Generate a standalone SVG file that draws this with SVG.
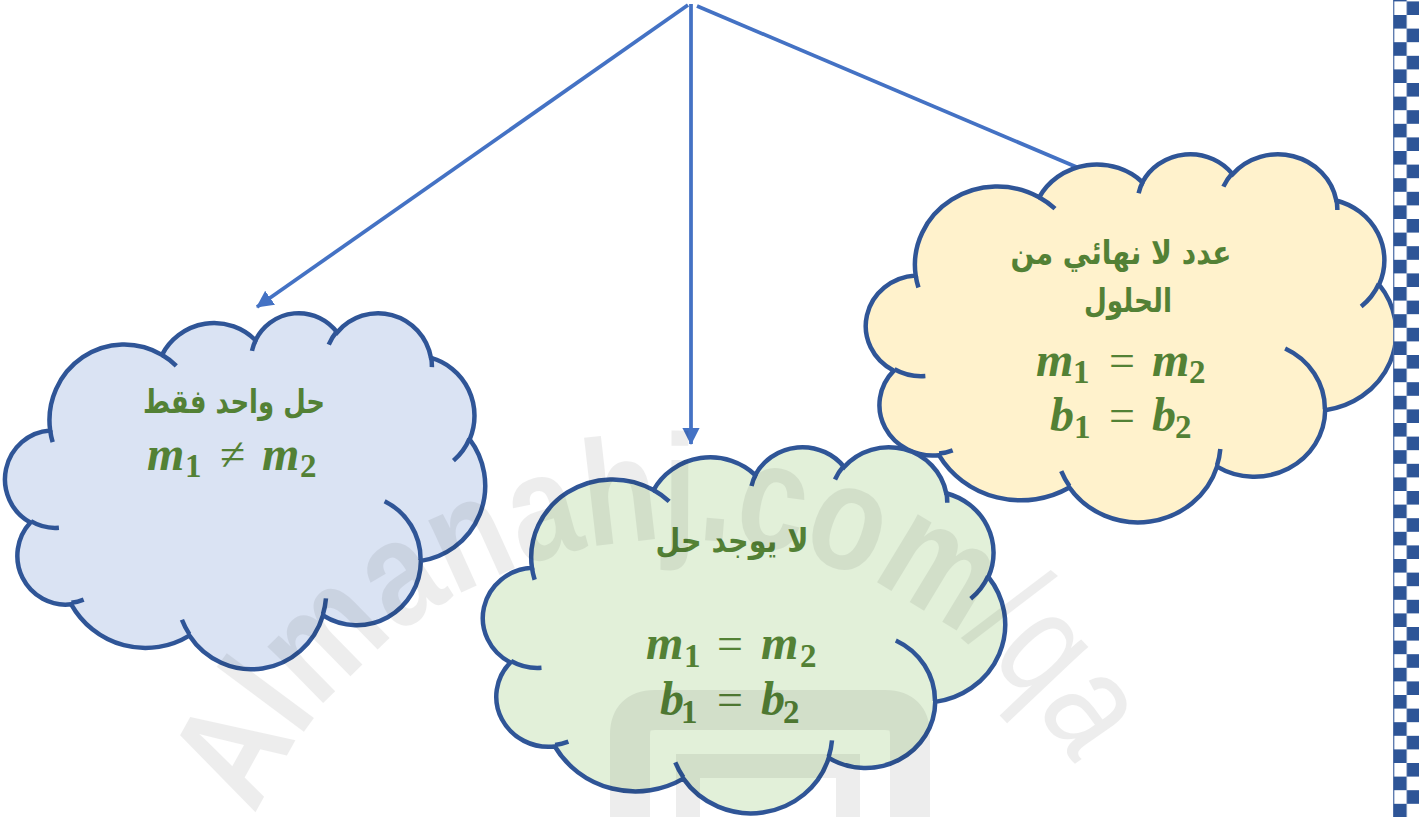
<svg xmlns="http://www.w3.org/2000/svg" width="1419" height="817" viewBox="0 0 1419 817">
<style>
.edge{fill:none;stroke:#4472C4;stroke-width:3.75}
.cl{stroke:#2F5597;stroke-width:4.5}
.cl-in{fill:none;stroke:#2F5597;stroke-width:4.5}
.blue{fill:#DAE3F3}
.green{fill:#E2F0D9}
.yellow{fill:#FFF2CC}
.ar{font-family:"DejaVu Sans",sans-serif;font-weight:bold;font-size:33px;fill:#538135}
.math{font-family:"Liberation Serif",serif;fill:#538135}
.mi{font-style:italic;font-weight:bold;font-size:48px}
.sub{font-style:normal;font-weight:bold;font-size:33px}
.mo{font-style:normal;font-weight:normal;font-size:46px}
.wm{font-family:"Liberation Sans",sans-serif;font-weight:bold;font-size:150px}
</style>
<defs>
<marker id="ah" markerUnits="userSpaceOnUse" markerWidth="18" markerHeight="18" refX="16" refY="8.6" orient="auto">
<path d="M0,0 L17,8.6 L0,17.2 Z" fill="#4472C4"/>
</marker>
<path id="cloudOuter" vector-effect="non-scaling-stroke" d="M3900,14370 A6753,9190 0 0 1 14005,5202 A5333,7267 0 0 1 22456,3432 A4365,5945 0 0 1 29833,2481 A4857,6595 0 0 1 38318,5576 A5333,7273 0 0 1 41818,15460 A6775,9220 0 0 1 37404,30203 A5785,7867 0 0 1 28556,36813 A6752,9215 0 0 1 16480,39264 A7720,10543 0 0 1 5804,35470 A4360,5918 0 0 1 2113,25548 A4345,5945 0 0 1 3900,14370 Z"/>
<path id="cloudInner" vector-effect="non-scaling-stroke" d="M4693,26177 A4345,5945 0 0 1 2160,25380 M6928,34899 A4360,5918 0 0 1 5820,35281 M16478,39090 A6752,9215 0 0 1 15810,37350 M28827,34751 A6752,9215 0 0 1 28560,36660 M34129,22954 A5785,7867 0 0 1 37381,30090 M41798,15354 A5333,7273 0 0 1 40350,18030 M38324,5426 A4857,6595 0 0 1 38400,6690 M29078,3952 A4857,6595 0 0 1 29820,2340 M22141,4720 A4365,5945 0 0 1 22500,3330 M14000,5192 A6753,9190 0 0 1 15300,6540 M4127,15789 A6753,9190 0 0 1 3900,14370"/>
<path id="wmArc" d="M256,816 A460,460 0 0 1 1080,776"/>
<pattern id="chk" x="1393.3" y="1.4" width="25.7" height="27.2" patternUnits="userSpaceOnUse">
<rect x="13.4" y="0" width="12.3" height="13.6" fill="#2E5597"/>
<rect x="0" y="13.6" width="13.4" height="13.6" fill="#2E5597"/>
</pattern>
</defs>
<rect width="1419" height="817" fill="#FFFFFF"/>
<g id="connectors">
<line class="edge" x1="688" y1="5" x2="257" y2="307" marker-end="url(#ah)"/>
<line class="edge" x1="691" y1="4" x2="691" y2="444" marker-end="url(#ah)"/>
<line class="edge" x1="697" y1="6" x2="1100" y2="177"/>
</g>
<g id="node-infinite">
<use href="#cloudOuter" class="cl yellow" transform="translate(868,153) scale(0.0122222,0.0085185)"/>
<use href="#cloudInner" class="cl-in" transform="translate(868,153) scale(0.0122222,0.0085185)"/>
<text class="ar" x="1121" y="264" text-anchor="middle" textLength="221" lengthAdjust="spacingAndGlyphs">عدد لا نهائي من</text>
<text class="ar" x="1128" y="312" text-anchor="middle" textLength="88" lengthAdjust="spacingAndGlyphs">الحلول</text>
<text class="math"><tspan class="mi" x="1036" y="376">m</tspan><tspan class="sub" x="1073" y="383">1</tspan><tspan class="mo" x="1109" y="376">=</tspan><tspan class="mi" x="1152" y="376">m</tspan><tspan class="sub" x="1189" y="383">2</tspan></text>
<text class="math"><tspan class="mi" x="1050" y="431">b</tspan><tspan class="sub" x="1074" y="438">1</tspan><tspan class="mo" x="1109" y="431">=</tspan><tspan class="mi" x="1152" y="431">b</tspan><tspan class="sub" x="1175" y="438">2</tspan></text>
</g>
<g id="node-none">
<use href="#cloudOuter" class="cl green" transform="translate(485,446) scale(0.0120370,0.0084722)"/>
<use href="#cloudInner" class="cl-in" transform="translate(485,446) scale(0.0120370,0.0084722)"/>
<text class="ar" x="732" y="552" text-anchor="middle" textLength="153" lengthAdjust="spacingAndGlyphs">لا يوجد حل</text>
<text class="math"><tspan class="mi" x="646" y="659">m</tspan><tspan class="sub" x="684" y="667">1</tspan><tspan class="mo" x="717" y="659">=</tspan><tspan class="mi" x="761" y="659">m</tspan><tspan class="sub" x="800" y="667">2</tspan></text>
<text class="math"><tspan class="mi" x="660" y="715">b</tspan><tspan class="sub" x="681" y="723">1</tspan><tspan class="mo" x="717" y="715">=</tspan><tspan class="mi" x="761" y="715">b</tspan><tspan class="sub" x="783" y="723">2</tspan></text>
</g>
<g id="node-one">
<use href="#cloudOuter" class="cl blue" transform="translate(7,312) scale(0.0110648,0.0082407)"/>
<use href="#cloudInner" class="cl-in" transform="translate(7,312) scale(0.0110648,0.0082407)"/>
<text class="ar" x="234" y="413" text-anchor="middle" textLength="182" lengthAdjust="spacingAndGlyphs">حل واحد فقط</text>
<text class="math"><tspan class="mi" x="147" y="470">m</tspan><tspan class="sub" x="185" y="477">1</tspan><tspan class="mo" x="220" y="470">≠</tspan><tspan class="mi" x="262" y="470">m</tspan><tspan class="sub" x="300" y="477">2</tspan></text>
</g>
<g id="watermark" opacity="0.065">
<text class="wm"><textPath href="#wmArc" textLength="1010" lengthAdjust="spacingAndGlyphs">Almanahj.com<tspan font-weight="normal">/qa</tspan></textPath></text>
<path d="M630,817 V735 Q630,710 655,710 H885 Q910,710 910,735 V817" fill="none" stroke="#000" stroke-width="40"/>
<path d="M688,817 V766 H848 V817" fill="none" stroke="#000" stroke-width="24"/>
</g>
<g id="border">
<rect x="1393.3" y="0" width="25.7" height="817" fill="#FFFFFF"/>
<rect x="1393.3" y="0" width="25.7" height="817" fill="url(#chk)"/>
<line x1="1393.8" y1="0" x2="1393.8" y2="817" stroke="#2E5597" stroke-width="1"/>
</g>
</svg>
